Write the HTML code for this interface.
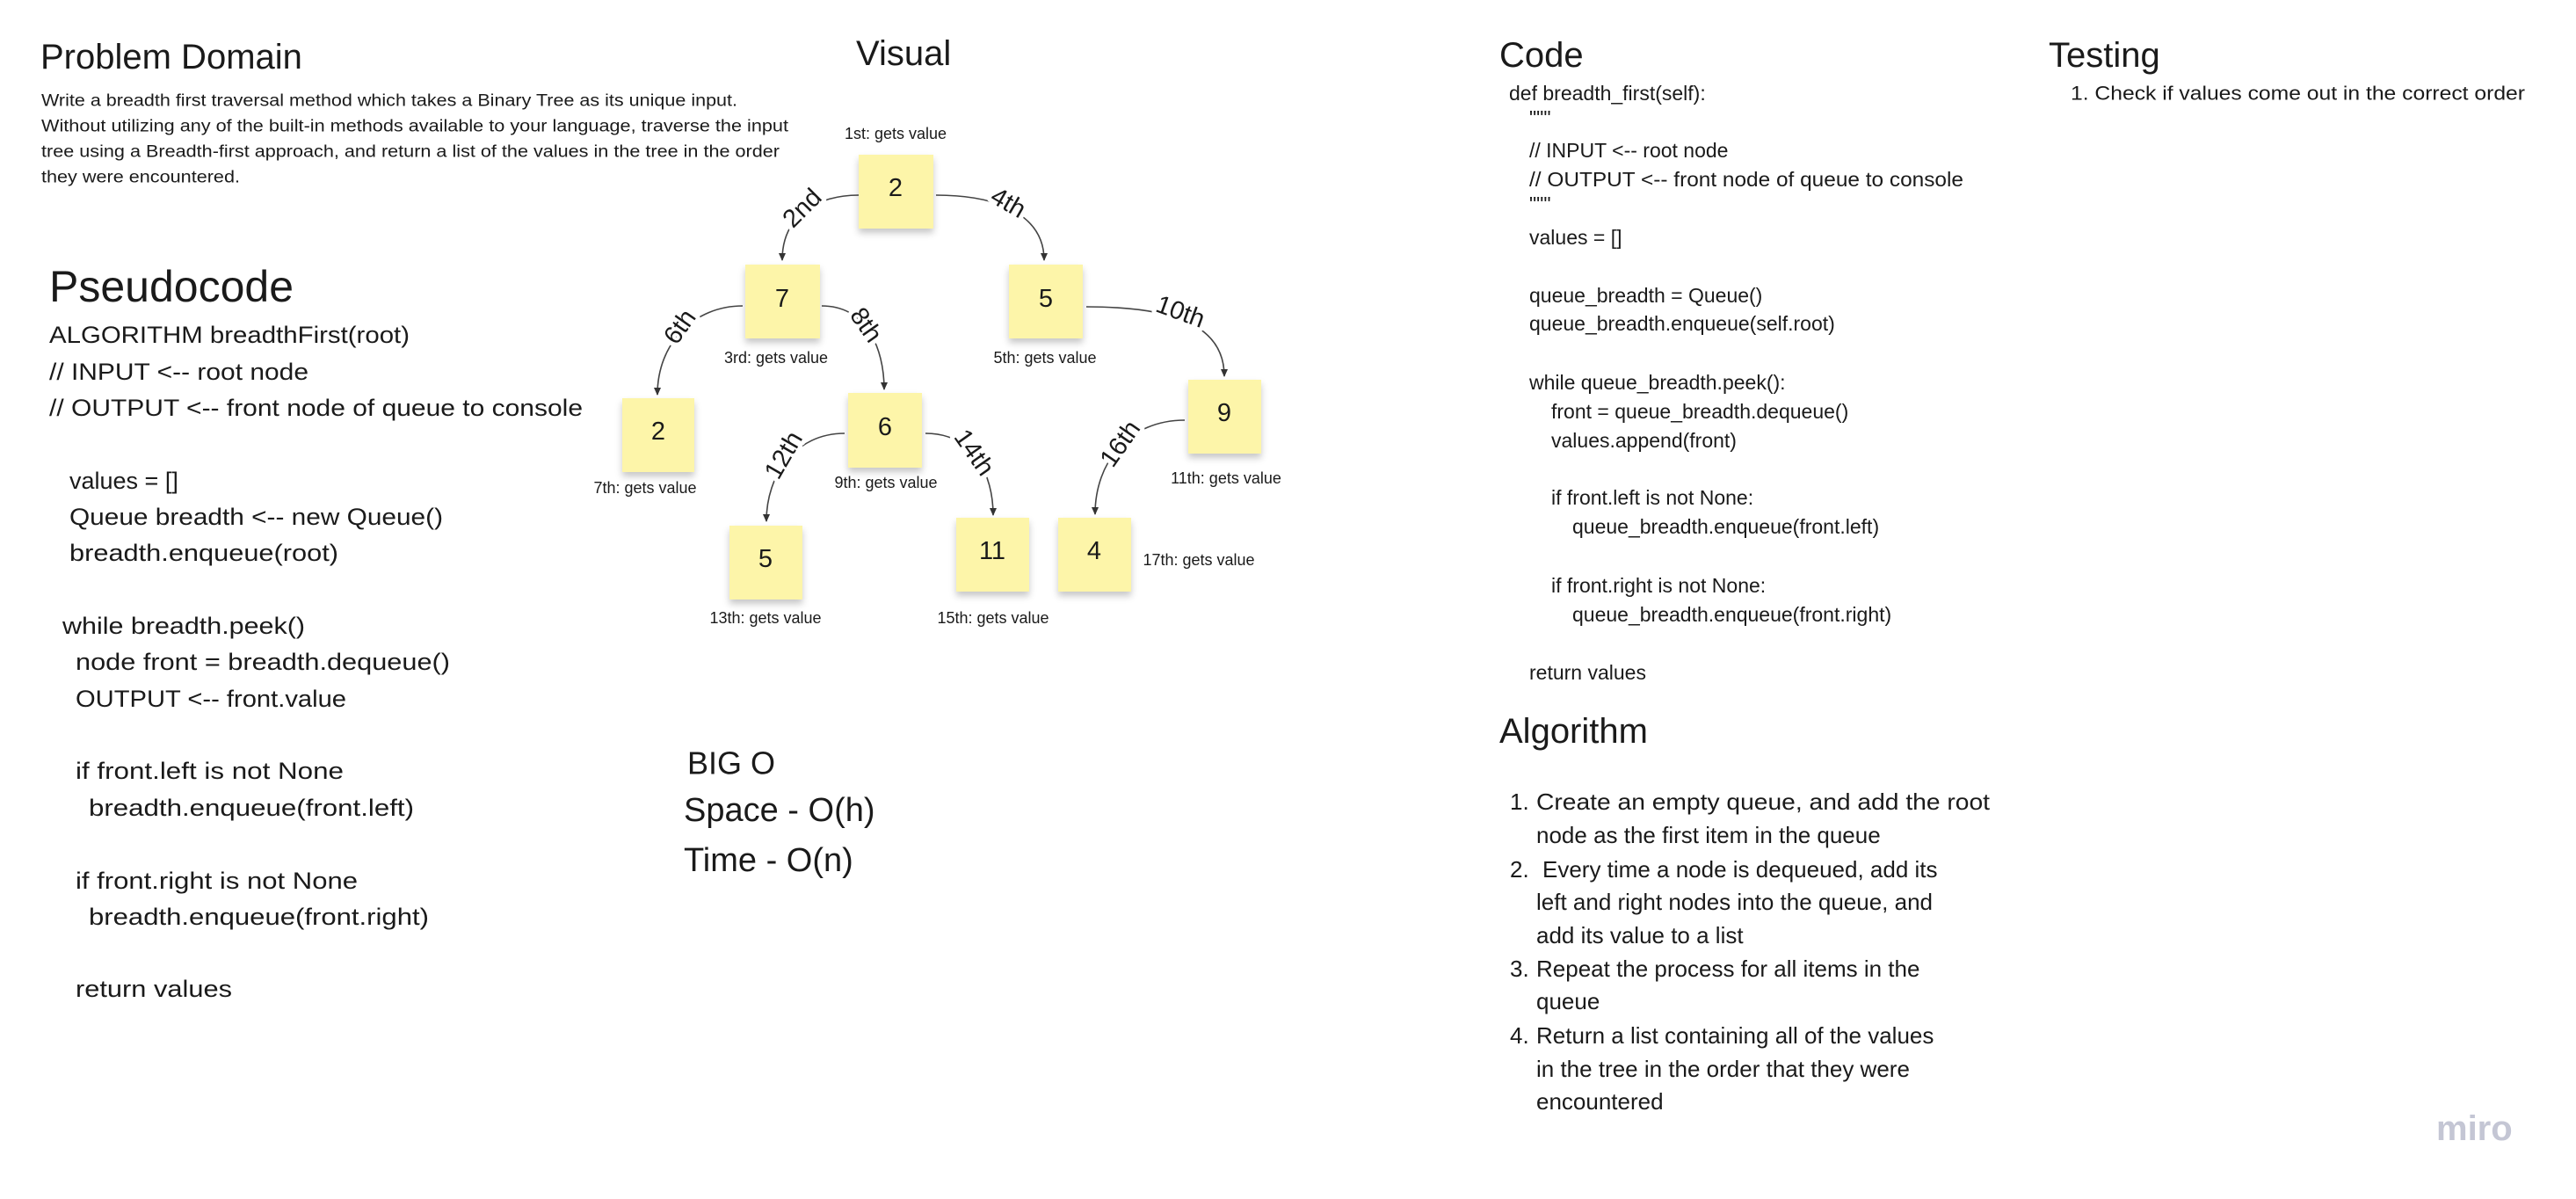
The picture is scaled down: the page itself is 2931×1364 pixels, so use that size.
<!DOCTYPE html>
<html><head><meta charset="utf-8"><style>
html,body{margin:0;padding:0;background:#fff;}
svg{display:block;}
text{font-family:"Liberation Sans",sans-serif;fill:#1a1a1a;}
</style></head><body>
<svg width="2931" height="1364" viewBox="0 0 2931 1364" xmlns="http://www.w3.org/2000/svg">
<defs>
<marker id="ar" markerWidth="10" markerHeight="10" refX="8" refY="5" orient="auto" markerUnits="userSpaceOnUse">
<path d="M0,1 L9,5 L0,9 Z" fill="#333"/>
</marker>
<filter id="sh" x="-20%" y="-20%" width="140%" height="160%">
<feDropShadow dx="0" dy="5" stdDeviation="4" flood-color="#000" flood-opacity="0.22"/>
</filter>
</defs>

<!-- Problem Domain -->
<text x="46" y="78" font-size="40">Problem Domain</text>
<g font-size="19" dominant-baseline="central">
<text x="47" y="115" textLength="792" lengthAdjust="spacingAndGlyphs">Write a breadth first traversal method which takes a Binary Tree as its unique input.</text>
<text x="47" y="144" textLength="850" lengthAdjust="spacingAndGlyphs">Without utilizing any of the built-in methods available to your language, traverse the input</text>
<text x="47" y="173" textLength="840" lengthAdjust="spacingAndGlyphs">tree using a Breadth-first approach, and return a list of the values in the tree in the order</text>
<text x="47" y="202" textLength="226" lengthAdjust="spacingAndGlyphs">they were encountered.</text>
</g>

<!-- Pseudocode -->
<text x="56" y="343" font-size="50">Pseudocode</text>
<g font-size="27" dominant-baseline="central">
<text x="56" y="381" textLength="410" lengthAdjust="spacingAndGlyphs">ALGORITHM breadthFirst(root)</text>
<text x="56" y="423" textLength="295" lengthAdjust="spacingAndGlyphs">// INPUT &lt;-- root node</text>
<text x="56" y="464" textLength="607" lengthAdjust="spacingAndGlyphs">// OUTPUT &lt;-- front node of queue to console</text>
<text x="79" y="547">values = []</text>
<text x="79" y="588" textLength="425" lengthAdjust="spacingAndGlyphs">Queue breadth &lt;-- new Queue()</text>
<text x="79" y="629" textLength="306" lengthAdjust="spacingAndGlyphs">breadth.enqueue(root)</text>
<text x="71" y="712" textLength="276" lengthAdjust="spacingAndGlyphs">while breadth.peek()</text>
<text x="86" y="753" textLength="426" lengthAdjust="spacingAndGlyphs">node front = breadth.dequeue()</text>
<text x="86" y="795" textLength="308" lengthAdjust="spacingAndGlyphs">OUTPUT &lt;-- front.value</text>
<text x="86" y="877" textLength="305" lengthAdjust="spacingAndGlyphs">if front.left is not None</text>
<text x="101" y="919" textLength="370" lengthAdjust="spacingAndGlyphs">breadth.enqueue(front.left)</text>
<text x="86" y="1002" textLength="321" lengthAdjust="spacingAndGlyphs">if front.right is not None</text>
<text x="101" y="1043" textLength="387" lengthAdjust="spacingAndGlyphs">breadth.enqueue(front.right)</text>
<text x="86" y="1125" textLength="178" lengthAdjust="spacingAndGlyphs">return values</text>
</g>

<!-- BIG O -->
<g font-size="38" dominant-baseline="central">
<text x="782" y="868" font-size="36">BIG O</text>
<text x="778" y="922">Space - O(h)</text>
<text x="778" y="979">Time - O(n)</text>
</g>

<!-- Visual -->
<text x="974" y="74" font-size="40">Visual</text>

<!-- connectors -->
<g fill="none" stroke="#444" stroke-width="1.6" marker-end="url(#ar)">
<path d="M977,222 C930,222 890,245 890,296"/>
<path d="M1065,222 C1145,222 1188,250 1188,296"/>
<path d="M845,348 C790,348 748,390 748,449"/>
<path d="M935,348 C985,348 1006,395 1006,443"/>
<path d="M1236,349 C1336,349 1393,370 1393,428"/>
<path d="M961,493 C905,493 872,540 872,593"/>
<path d="M1053,493 C1108,493 1130,540 1130,586"/>
<path d="M1348,478 C1285,478 1246,525 1246,585"/>
</g>
<!-- edge labels -->
<g font-size="29" text-anchor="middle" dominant-baseline="central" stroke="#fff" stroke-width="10" paint-order="stroke" style="stroke-linejoin:round">
<text transform="translate(913,237) rotate(-45)">2nd</text>
<text transform="translate(1147,231) rotate(30)">4th</text>
<text transform="translate(774,372) rotate(-55)">6th</text>
<text transform="translate(985,370) rotate(55)">8th</text>
<text transform="translate(1343,355) rotate(20)">10th</text>
<text transform="translate(892,518) rotate(-60)">12th</text>
<text transform="translate(1108,515) rotate(55)">14th</text>
<text transform="translate(1275,505) rotate(-55)">16th</text>
</g>

<!-- stickies -->
<g fill="#fdf5a9" filter="url(#sh)">
<rect x="977" y="176" width="85" height="84"/>
<rect x="848" y="301" width="85" height="84"/>
<rect x="1148" y="301" width="84" height="84"/>
<rect x="708" y="453" width="82" height="84"/>
<rect x="965" y="447" width="84" height="85"/>
<rect x="1352" y="432" width="83" height="84"/>
<rect x="830" y="598" width="83" height="84"/>
<rect x="1088" y="589" width="83" height="84"/>
<rect x="1204" y="589" width="83" height="84"/>
</g>
<g font-size="29" text-anchor="middle" dominant-baseline="central">
<text x="1019" y="214">2</text>
<text x="890" y="340">7</text>
<text x="1190" y="340">5</text>
<text x="749" y="491">2</text>
<text x="1007" y="486">6</text>
<text x="1393" y="470">9</text>
<text x="871" y="636">5</text>
<text x="1129" y="627">11</text>
<text x="1245" y="627">4</text>
</g>
<g font-size="18" text-anchor="middle" dominant-baseline="central">
<text x="1019" y="152">1st: gets value</text>
<text x="883" y="407">3rd: gets value</text>
<text x="1189" y="407">5th: gets value</text>
<text x="734" y="555">7th: gets value</text>
<text x="1008" y="549">9th: gets value</text>
<text x="1395" y="544">11th: gets value</text>
<text x="871" y="703">13th: gets value</text>
<text x="1130" y="703">15th: gets value</text>
<text x="1364" y="637">17th: gets value</text>
</g>

<!-- Code -->
<text x="1706" y="76" font-size="40">Code</text>
<g font-size="23" dominant-baseline="central">
<text x="1717" y="106">def breadth_first(self):</text>
<text x="1740" y="134">"""</text>
<text x="1740" y="171">// INPUT &lt;-- root node</text>
<text x="1740" y="204" textLength="494" lengthAdjust="spacingAndGlyphs">// OUTPUT &lt;-- front node of queue to console</text>
<text x="1740" y="232">"""</text>
<text x="1740" y="270">values = []</text>
<text x="1740" y="336">queue_breadth = Queue()</text>
<text x="1740" y="368">queue_breadth.enqueue(self.root)</text>
<text x="1740" y="435">while queue_breadth.peek():</text>
<text x="1765" y="468">front = queue_breadth.dequeue()</text>
<text x="1765" y="501">values.append(front)</text>
<text x="1765" y="566">if front.left is not None:</text>
<text x="1789" y="599">queue_breadth.enqueue(front.left)</text>
<text x="1765" y="666">if front.right is not None:</text>
<text x="1789" y="699">queue_breadth.enqueue(front.right)</text>
<text x="1740" y="765">return values</text>
</g>

<!-- Testing -->
<text x="2331" y="76" font-size="40">Testing</text>
<text x="2356" y="106" font-size="22" dominant-baseline="central" textLength="517" lengthAdjust="spacingAndGlyphs">1. Check if values come out in the correct order</text>

<!-- Algorithm -->
<text x="1706" y="845" font-size="40">Algorithm</text>
<g font-size="26" dominant-baseline="central">
<text x="1718" y="912">1.</text>
<text x="1748" y="912" textLength="516" lengthAdjust="spacingAndGlyphs">Create an empty queue, and add the root</text>
<text x="1748" y="950">node as the first item in the queue</text>
<text x="1718" y="989">2.</text>
<text x="1755" y="989">Every time a node is dequeued, add its</text>
<text x="1748" y="1026">left and right nodes into the queue, and</text>
<text x="1748" y="1064">add its value to a list</text>
<text x="1718" y="1102">3.</text>
<text x="1748" y="1102">Repeat the process for all items in the</text>
<text x="1748" y="1139">queue</text>
<text x="1718" y="1178">4.</text>
<text x="1748" y="1178">Return a list containing all of the values</text>
<text x="1748" y="1216">in the tree in the order that they were</text>
<text x="1748" y="1253">encountered</text>
</g>

<!-- miro -->
<text x="2772" y="1297" font-size="40" font-weight="bold" style="fill:#c4c6d4">miro</text>
</svg>
</body></html>
